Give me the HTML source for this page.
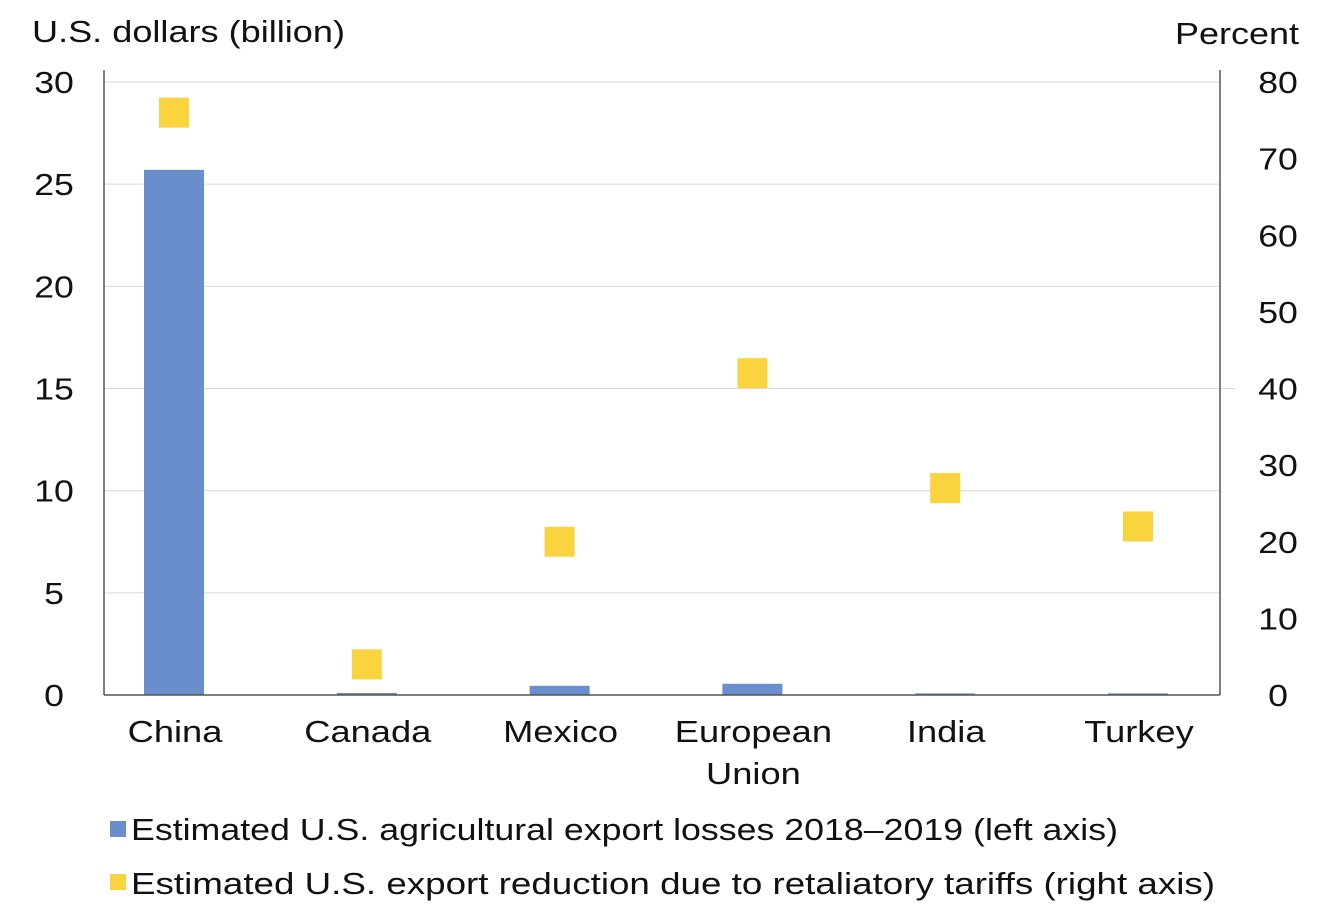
<!DOCTYPE html>
<html><head><meta charset="utf-8"><style>
html,body{margin:0;padding:0;background:#fff;}
svg{display:block;font-family:"Liberation Sans",sans-serif;}
</style></head><body>
<svg id="chart" width="1335" height="912">
<g id="grid"></g>
<g id="bars"></g>
<g id="marks"></g>
<g id="axes"></g>
<text x="32" y="42" font-size="31" fill="#111" textLength="313" lengthAdjust="spacingAndGlyphs">U.S. dollars (billion)</text>
<text x="1175" y="44" font-size="31" fill="#111" textLength="124" lengthAdjust="spacingAndGlyphs">Percent</text>
<g>
<rect x="110" y="821" width="16" height="16" fill="#6a8dcb"/>
<text x="131" y="840" font-size="31" fill="#111" textLength="987" lengthAdjust="spacingAndGlyphs">Estimated U.S. agricultural export losses 2018–2019 (left axis)</text>
<rect x="110" y="874" width="16" height="16" fill="#f9d43f"/>
<text x="131" y="894" font-size="31" fill="#111" textLength="1084" lengthAdjust="spacingAndGlyphs">Estimated U.S. export reduction due to retaliatory tariffs (right axis)</text>
</g>
</svg>
<script>
const categories = ["China","Canada","Mexico","European|Union","India","Turkey"];
const losses = [25.7, 0.1, 0.45, 0.55, 0.08, 0.08];
const reduction = [76, 4, 20, 42, 27, 22];
const leftTicks = [0,5,10,15,20,25,30];
const rightTicks = [0,10,20,30,40,50,60,70,80];

const NS="http://www.w3.org/2000/svg";
const X0=104, X1=1220, Y0=695, Y1=82;
const yL=v=>Y0-(v/30)*(Y0-Y1);
const yR=v=>Y0-(v/80)*(Y0-Y1);
const xC=i=>174+i*192.8;
function mk(tag,attrs,parent){const e=document.createElementNS(NS,tag);for(const k in attrs)e.setAttribute(k,attrs[k]);parent.appendChild(e);return e;}
function stretched(x,y,str,parent,sx){
  const t=mk('text',{x:0,y:0,'font-size':31,'text-anchor':'middle',fill:'#111',transform:`translate(${x},${y}) scale(${sx},1)`},parent);
  t.textContent=str;return t;
}
const grid=document.getElementById('grid'),bars=document.getElementById('bars'),marks=document.getElementById('marks'),axes=document.getElementById('axes');
leftTicks.forEach(t=>{
  if(t>0){const l=mk('line',{x1:X0,x2:X1,y1:yL(t),y2:yL(t),stroke:'#d9d9d9','stroke-width':1},grid);
  
  }
  const tx=stretched(54,yL(t)+11,String(t),axes,1.15);
  
  
});
rightTicks.forEach(t=>{
  const tx=stretched(1278,yR(t)+11,String(t),axes,1.15);
  
  
});
const tk=mk('line',{x1:X1,x2:1235,y1:yR(40),y2:yR(40),stroke:'#d9d9d9','stroke-width':1},grid);


const a1=mk('line',{x1:X0,x2:X0,y1:Y1-12,y2:Y0,stroke:'#555','stroke-width':1.5},axes);


const a2=mk('line',{x1:X1,x2:X1,y1:Y1-12,y2:Y0,stroke:'#555','stroke-width':1.5},axes);


const a3=mk('line',{x1:X0,x2:X1,y1:Y0,y2:Y0,stroke:'#555','stroke-width':1.5},axes);


categories.forEach((c,i)=>{
  const h=Math.max(Y0-yL(losses[i]),1.5);
  const b=mk('rect',{x:xC(i)-30,y:Y0-h,width:60,height:h,fill:'#6a8dcb'},bars);
  
  
  const m=mk('rect',{x:xC(i)-15,y:yR(reduction[i])-15,width:30,height:30,fill:'#f9d43f'},marks);
  
  
  c.split('|').forEach((ln,j)=>{
    const t=stretched(xC(i)+1,742+j*42,ln,axes,1.17);
    
    
  });
});
</script>
</body></html>
